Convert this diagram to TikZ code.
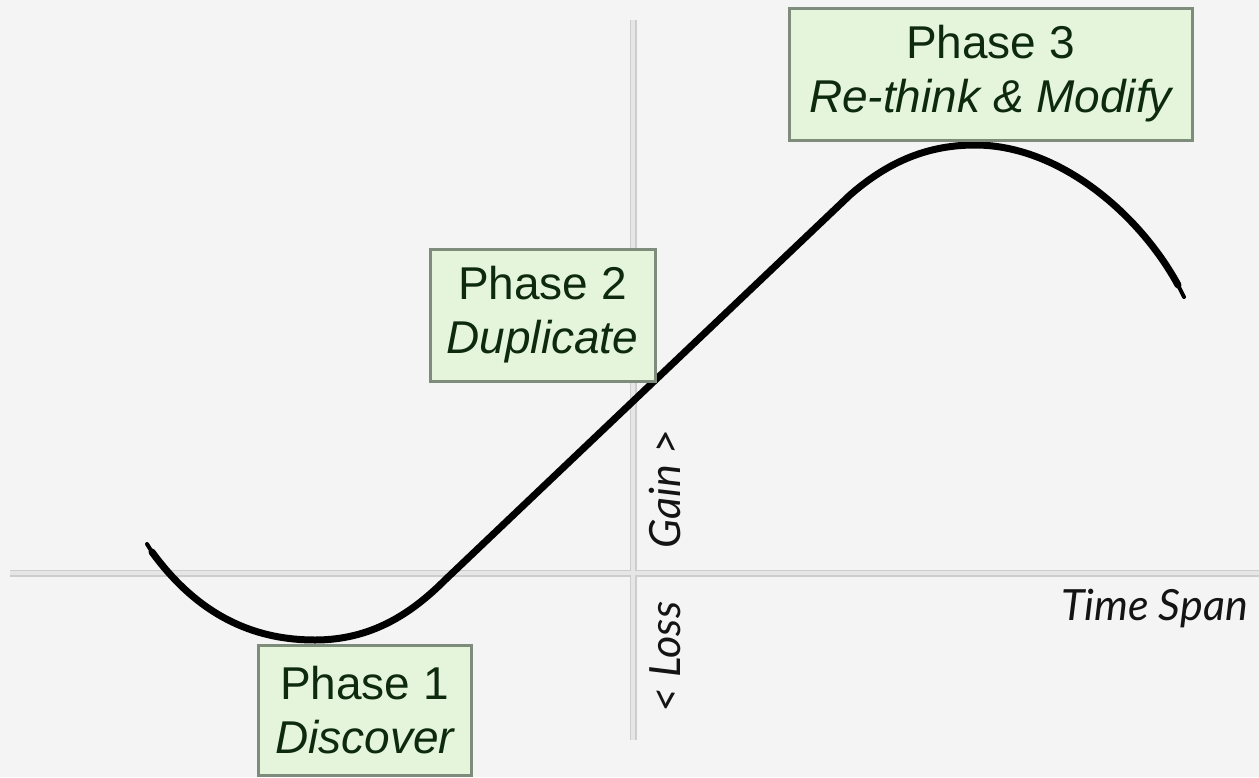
\documentclass[tikz,border=0pt]{standalone}
\usepackage{fontspec}
\setmainfont{Liberation Sans}
\newfontfamily\axisfont{Lato}
\definecolor{bg}{HTML}{F4F4F4}
\definecolor{axisedge}{HTML}{CDCDCD}
\definecolor{axisfill}{HTML}{E6E6E6}
\definecolor{boxfill}{HTML}{E4F5DC}
\definecolor{boxdraw}{HTML}{7E8C7B}
\definecolor{boxtext}{HTML}{0E2A0E}
\definecolor{labeltext}{HTML}{141414}
\tikzset{
  phasebox/.style={draw=boxdraw, line width=3pt, fill=boxfill, text=boxtext,
    align=center, inner sep=0pt, font=\fontsize{46}{54}\selectfont},
  axislabel/.style={text=labeltext, inner sep=0pt, font=\axisfont\itshape\fontsize{43}{46}\selectfont},
  axisline/.style={axisedge, line width=7pt},
  axisinner/.style={axisfill, line width=4pt},
  curveline/.style={black, line width=7pt, line cap=round, line join=round},
  curveend/.style={black, line width=4pt, line cap=round}
}
\begin{document}
\begin{tikzpicture}[x=1pt, y=-1pt]
\fill[bg] (0,0) rectangle (1259,777);
\useasboundingbox (0,0) rectangle (1259,777);
% axes
\coordinate (hL) at (10,573);
\coordinate (hR) at (1259,573);
\coordinate (vT) at (633,20);
\coordinate (vB) at (633,740);
\draw[axisline] (hL) -- (hR);
\draw[axisline] (vT) -- (vB);
\draw[axisinner] (hL) -- (hR);
\draw[axisinner] (vT) -- (vB);
% curve
\draw[curveline] (152,552) .. controls (203,622) and (262,640) .. (315,640)
  .. controls (370,640) and (410,615) .. (445,580) -- (850,195)
  .. controls (890,160) and (930,145) .. (975,145)
  .. controls (1060,145) and (1140,215) .. (1178,285);
\draw[curveend] (152,552) -- (147,544);
\draw[curveend] (1178,285) -- (1184,297);
% boxes
\node[phasebox, minimum width=213pt, minimum height=130pt] (p1) at (364.5,710) {Phase 1\\\itshape Discover};
\node[phasebox, minimum width=225pt, minimum height=132pt] (p2) at (542.5,315) {Phase 2\\\itshape Duplicate};
\node[phasebox, minimum width=403pt, minimum height=132pt] (p3) at (990.5,74) {Phase 3\\\itshape Re-think \& Modify};
% labels
\node[axislabel, rotate=90] (gain) at (665,489) {Gain >};
\node[axislabel, rotate=90] (loss) at (665,657) {< Loss};
\node[axislabel, anchor=base east] (time) at (1248,620) {Time Span};
\end{tikzpicture}
\end{document}
